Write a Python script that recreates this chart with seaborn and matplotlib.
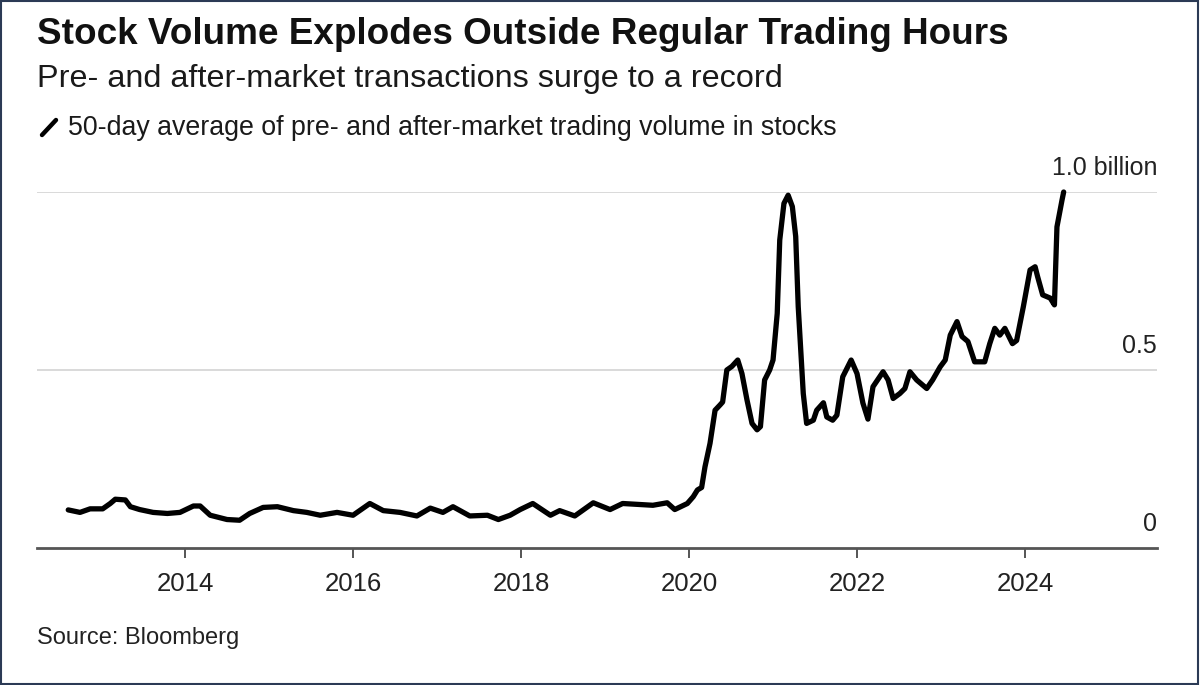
import matplotlib
matplotlib.use("Agg")
import matplotlib.pyplot as plt
from matplotlib.lines import Line2D
from matplotlib.patches import Rectangle
import seaborn as sns
import pandas as pd

# ---- data (decimal year, volume in billions of shares) ----
years = [
    2012.61, 2012.75, 2012.87, 2013.02, 2013.11, 2013.17, 2013.29, 2013.35, 2013.46, 2013.62,
    2013.79, 2013.94, 2014.10, 2014.18, 2014.30, 2014.50, 2014.65, 2014.77, 2014.93, 2015.10,
    2015.29, 2015.45, 2015.61, 2015.81, 2016.00, 2016.20, 2016.36, 2016.56, 2016.76, 2016.92,
    2017.07, 2017.19, 2017.39, 2017.60, 2017.73, 2017.87, 2017.99, 2018.14, 2018.35, 2018.46,
    2018.64, 2018.86, 2019.06, 2019.21, 2019.57, 2019.74, 2019.83, 2019.98, 2020.05, 2020.10,
    2020.15, 2020.19, 2020.25, 2020.31, 2020.37, 2020.40, 2020.45, 2020.51, 2020.58, 2020.63,
    2020.69, 2020.75, 2020.81, 2020.85, 2020.90, 2020.96, 2021.00, 2021.05, 2021.08, 2021.13,
    2021.18, 2021.23, 2021.27, 2021.30, 2021.36, 2021.40, 2021.48, 2021.52, 2021.60, 2021.64,
    2021.71, 2021.76, 2021.83, 2021.93, 2022.00, 2022.07, 2022.13, 2022.19, 2022.27, 2022.31,
    2022.37, 2022.43, 2022.51, 2022.57, 2022.63, 2022.71, 2022.83, 2022.90, 2022.99, 2023.05,
    2023.11, 2023.19, 2023.25, 2023.32, 2023.40, 2023.52, 2023.58, 2023.64, 2023.70, 2023.76,
    2023.85, 2023.90, 2023.98, 2024.06, 2024.12, 2024.15, 2024.21, 2024.30, 2024.35, 2024.38,
    2024.44, 2024.46,
]
volume = [
    0.107, 0.100, 0.110, 0.110, 0.125, 0.137, 0.135, 0.116, 0.108, 0.100,
    0.097, 0.100, 0.118, 0.118, 0.092, 0.080, 0.078, 0.097, 0.114, 0.116,
    0.105, 0.100, 0.092, 0.100, 0.092, 0.125, 0.105, 0.100, 0.090, 0.112,
    0.100, 0.116, 0.090, 0.092, 0.080, 0.092, 0.108, 0.125, 0.092, 0.105,
    0.090, 0.127, 0.108, 0.125, 0.120, 0.127, 0.108, 0.125, 0.144, 0.163,
    0.170, 0.228, 0.294, 0.387, 0.402, 0.410, 0.500, 0.510, 0.528, 0.490,
    0.416, 0.350, 0.332, 0.341, 0.472, 0.500, 0.528, 0.659, 0.865, 0.968,
    0.991, 0.959, 0.875, 0.678, 0.434, 0.350, 0.359, 0.387, 0.408, 0.368,
    0.359, 0.373, 0.481, 0.528, 0.490, 0.407, 0.362, 0.453, 0.481, 0.495,
    0.472, 0.420, 0.434, 0.448, 0.495, 0.472, 0.448, 0.472, 0.509, 0.528,
    0.598, 0.636, 0.594, 0.580, 0.523, 0.523, 0.574, 0.617, 0.598, 0.617,
    0.574, 0.583, 0.678, 0.781, 0.790, 0.762, 0.711, 0.702, 0.683, 0.902,
    0.977, 1.000,
]
x_ticks = [2014, 2016, 2018, 2020, 2022, 2024]
x_tick_labels = ["2014", "2016", "2018", "2020", "2022", "2024"]
y_ticks = [0, 0.5, 1.0]
y_tick_labels = ["0", "0.5", "1.0 billion"]

title = "Stock Volume Explodes Outside Regular Trading Hours"
subtitle = "Pre- and after-market transactions surge to a record"
legend_label = "50-day average of pre- and after-market trading volume in stocks"
source = "Source: Bloomberg"

df = pd.DataFrame({"year": years, "volume": volume})

sns.set_theme(style="white")
plt.rcParams["font.family"] = ["Liberation Sans", "DejaVu Sans"]

W, H = 1200, 685
fig = plt.figure(figsize=(W / 100, H / 100), dpi=100)
fig.patch.set_facecolor("white")
ax = fig.add_axes([37 / W, 1 - 548 / H, 1120 / W, 356 / H])

# gridlines
for v in y_ticks[1:]:
    ax.axhline(v, color="#d9d9d9", lw=1.4, zorder=1)

sns.lineplot(data=df, x="year", y="volume", ax=ax, color="black", lw=3.8,
             clip_on=False, zorder=3, solid_joinstyle="round", solid_capstyle="round")

ax.set_xlim(2012.238, 2025.571)
ax.set_ylim(0, 1.0)
ax.set_xlabel("")
ax.set_ylabel("")
ax.set_yticks([])
ax.set_xticks(x_ticks)
ax.set_xticklabels(x_tick_labels)
ax.tick_params(axis="x", length=7, width=1.4, color="#555555", labelsize=18.5,
               labelcolor="#222222", pad=10, bottom=True)
for s in ["top", "right", "left"]:
    ax.spines[s].set_visible(False)
ax.spines["bottom"].set_color("#555555")
ax.spines["bottom"].set_linewidth(2)
ax.spines["bottom"].set_zorder(4)

# right-side value labels
for v, lab in zip(y_ticks, y_tick_labels):
    ax.annotate(lab, xy=(1.0, v), xycoords=("axes fraction", "data"),
                xytext=(0, 17.5), textcoords="offset points",
                ha="right", va="center", fontsize=18, color="#222222")

# header texts
fig.text(37 / W, 1 - 34 / H, title, fontsize=26.6, fontweight="bold",
         color="#111111", va="center", ha="left")
fig.text(37 / W, 1 - 79 / H, subtitle, fontsize=23.3, color="#1a1a1a",
         va="center", ha="left")
fig.text(68 / W, 1 - 128 / H, legend_label, fontsize=19.3, color="#1a1a1a",
         va="center", ha="left")
fig.add_artist(Line2D([42 / W, 56 / W], [1 - 135 / H, 1 - 120 / H],
                      transform=fig.transFigure, color="black", lw=3.2,
                      solid_capstyle="round"))
fig.text(37 / W, 1 - 638 / H, source, fontsize=17, color="#222222",
         va="center", ha="left")

# outer frame
fig.add_artist(Rectangle((0.001, 0.001), 0.997, 0.997, transform=fig.transFigure,
                         fill=False, edgecolor="#2b3a55", lw=1.5))

fig.savefig("out.png", dpi=100)
